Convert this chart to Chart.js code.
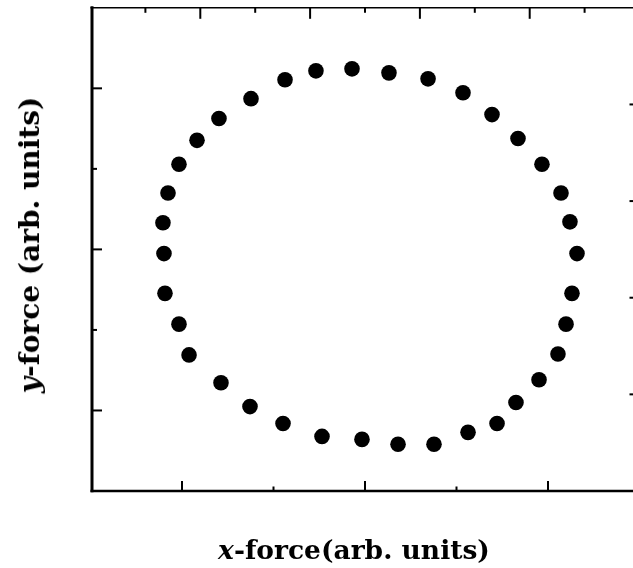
<!DOCTYPE html>
<html><head><meta charset="utf-8">
<script src="https://cdn.jsdelivr.net/npm/chart.js@4.4.1/dist/chart.umd.min.js"></script>
<style>
html,body{margin:0;padding:0;background:#fff;overflow:hidden;width:633px;height:568px;position:relative;}
#wrap{position:absolute;left:0;top:0;width:650px;height:568px;}
.lbl{position:absolute;font-family:"DejaVu Serif",serif;font-weight:bold;color:#000;white-space:nowrap;line-height:1;}
#xl{left:354px;top:550px;font-size:26.5px;transform:translate(-50%,-50%);}
#yl{left:30px;top:245px;font-size:28px;transform:translate(-50%,-50%) rotate(-90deg);}
</style></head>
<body>
<div id="wrap"><canvas id="c" width="650" height="568"></canvas></div>
<div id="xl" class="lbl"><i>x</i>-force(arb. units)</div>
<div id="yl" class="lbl"><i>y</i>-force (arb. units)</div>
<script>
// x-force values (arb. units)
const xForce = [0.814,0.803,0.792,0.847,0.967,1.164,1.404,1.754,2.126,2.464,2.858,3.262,
  3.689,4.071,4.388,4.672,4.934,5.142,5.240,5.317,5.262,5.197,5.109,4.902,
  4.650,4.443,4.126,3.754,3.361,2.967,2.530,2.104,1.743,1.426,1.077,0.967];
// y-force values (arb. units)
const yForce = [2.454,2.948,3.330,3.700,4.058,4.354,4.625,4.872,5.106,5.217,5.242,5.192,
  5.118,4.946,4.674,4.378,4.058,3.700,3.342,2.948,2.454,2.072,1.702,1.381,
  1.098,0.839,0.728,0.580,0.580,0.641,0.678,0.839,1.048,1.344,1.690,2.072];
// tick positions (no labels on this chart)
const bottomMajor = [1,3,5];
const bottomMinor = [2,4];
const topMajor = [2,4,6,8];
const topMinor = [1,3,5,7,9];
const leftMajor = [1,3,5];
const leftMinor = [2,4];
const rightTicks = [1,2,3,4];

const points = xForce.map((x,i)=>({x:x,y:yForce[i]}));

const framePlugin = {
  id:'frame',
  afterDraw(chart){
    const ctx = chart.ctx, a = chart.chartArea, s = chart.scales;
    ctx.save();
    ctx.strokeStyle = '#000';
    ctx.lineCap = 'butt';
    const line = (x1,y1,x2,y2,w)=>{ctx.lineWidth=w;ctx.beginPath();ctx.moveTo(x1,y1);ctx.lineTo(x2,y2);ctx.stroke();};
    const L = a.left+1.5, R = a.right, T = a.top, B = a.bottom;
    // frame
    line(L, T-1.5, L, B+1.2, 3);
    line(L-1.5, B, R, B, 2.5);
    line(L-1.5, T, R, T, 1.5);
    line(R, T, R, B, 2);
    // bottom ticks
    bottomMajor.forEach(v=>{const p=s.x.getPixelForValue(v); line(p,B,p,B-10,2);});
    bottomMinor.forEach(v=>{const p=s.x.getPixelForValue(v); line(p,B,p,B-4.5,2);});
    // top ticks
    topMajor.forEach(v=>{const p=s.x2.getPixelForValue(v); line(p,T,p,T+11,2);});
    topMinor.forEach(v=>{const p=s.x2.getPixelForValue(v); line(p,T,p,T+5,2);});
    // left ticks
    leftMajor.forEach(v=>{const p=s.y.getPixelForValue(v); line(L,p,L+10,p,2);});
    leftMinor.forEach(v=>{const p=s.y.getPixelForValue(v); line(L,p,L+5,p,2);});
    // right ticks
    rightTicks.forEach(v=>{const p=s.y2.getPixelForValue(v); line(R,p,R-10,p,2);});
    ctx.restore();
  }
};

new Chart(document.getElementById('c'), {
  type:'scatter',
  data:{datasets:[{data:points, backgroundColor:'#000', borderWidth:0, pointRadius:7.8, pointHoverRadius:7.8}]},
  options:{
    responsive:false, animation:false,
    layout:{padding:{left:90.5, right:10.5, top:4.5, bottom:77}},
    plugins:{legend:{display:false}, tooltip:{enabled:false}},
    scales:{
      x:{type:'linear', position:'bottom', min:0, max:6, display:false},
      x2:{type:'linear', position:'top', min:0, max:10, display:false},
      y:{type:'linear', position:'left', min:0, max:6, display:false},
      y2:{type:'linear', position:'right', min:0, max:5, display:false}
    }
  },
  plugins:[framePlugin]
});
</script>
</body></html>
